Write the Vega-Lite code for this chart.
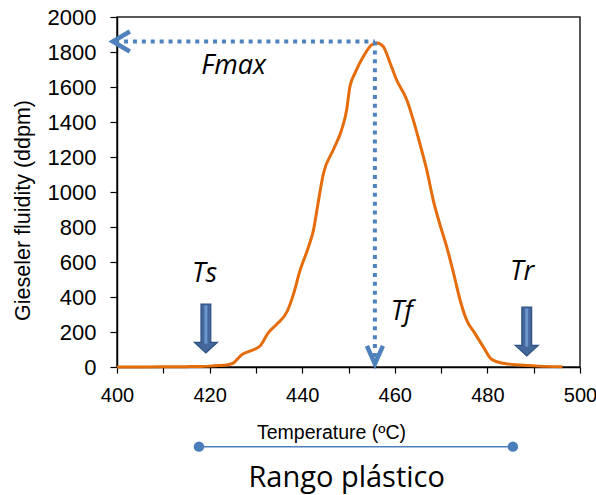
{
  "$schema": "https://vega.github.io/schema/vega-lite/v6.json",
  "width": 463,
  "height": 350,
  "autosize": {"type": "none"},
  "padding": {"left": 117, "top": 17, "right": 16, "bottom": 128},
  "background": "white",
  "config": {
    "view": {"stroke": "#222", "strokeWidth": 1.5},
    "axis": {"grid": false, "domainColor": "#000", "domainWidth": 1.5, "tickColor": "#000", "tickWidth": 1.2, "labelColor": "#000", "titleColor": "#000", "labelFont": "Liberation Sans", "titleFont": "Liberation Sans", "titleFontWeight": "normal"}
  },
  "datasets": {
    "curve": [
      {"T": 400, "F": 0}, {"T": 405, "F": 0}, {"T": 410, "F": 1}, {"T": 415, "F": 2}, {"T": 418, "F": 3},
      {"T": 420, "F": 5}, {"T": 422, "F": 8}, {"T": 423.7, "F": 12}, {"T": 425.1, "F": 22}, {"T": 426, "F": 45},
      {"T": 426.9, "F": 69}, {"T": 428.7, "F": 91}, {"T": 430.9, "F": 120}, {"T": 432.7, "F": 196}, {"T": 434.5, "F": 244},
      {"T": 436.8, "F": 320}, {"T": 438.1, "F": 415}, {"T": 439.5, "F": 549}, {"T": 441.3, "F": 682}, {"T": 442.5, "F": 790},
      {"T": 443.2, "F": 900}, {"T": 444.6, "F": 1107}, {"T": 446.7, "F": 1240}, {"T": 448.5, "F": 1354}, {"T": 449.6, "F": 1469},
      {"T": 450.3, "F": 1602}, {"T": 451.4, "F": 1679}, {"T": 453.2, "F": 1774}, {"T": 455.0, "F": 1841}, {"T": 456.1, "F": 1852},
      {"T": 457.5, "F": 1831}, {"T": 459.0, "F": 1736}, {"T": 460.4, "F": 1640}, {"T": 462.6, "F": 1526}, {"T": 464.0, "F": 1411},
      {"T": 465.4, "F": 1278}, {"T": 466.9, "F": 1126}, {"T": 468.3, "F": 954}, {"T": 469.8, "F": 810}, {"T": 471.2, "F": 688},
      {"T": 472.7, "F": 535}, {"T": 474.1, "F": 383}, {"T": 475.5, "F": 269}, {"T": 477.3, "F": 192}, {"T": 479.1, "F": 116},
      {"T": 480.9, "F": 44}, {"T": 483.4, "F": 21}, {"T": 487.0, "F": 11}, {"T": 491.0, "F": 5}, {"T": 496.2, "F": 2}
    ],
    "guides": [
      {"T": 399.6, "T2": 455.7, "F": 1860, "F2": 1860},
      {"T": 455.7, "T2": 455.7, "F": 1860, "F2": 30}
    ],
    "leftHead": [{"T": 399.1, "F": 1860}],
    "downHead": [{"T": 455.7, "F": 18}],
    "blockArrows": [{"name": "Ts", "T": 419.2, "F": 220}, {"name": "Tr", "T": 488.5, "F": 203}],
    "labels": [
      {"label": "Fmax", "T": 425.2, "F": 1674},
      {"label": "Ts", "T": 418.9, "F": 484},
      {"label": "Tr", "T": 487.5, "F": 495},
      {"label": "Tf", "T": 461.5, "F": 268}
    ],
    "range": [{"T": 417.7, "T2": 485.5, "F": -455}],
    "rangeEnds": [{"T": 417.7, "F": -455}, {"T": 485.5, "F": -455}],
    "rangeLabel": [{"label": "Rango plástico", "T": 449.6, "F": -684}]
  },
  "encoding": {
    "x": {"field": "T", "type": "quantitative", "scale": {"domain": [400, 500], "nice": false, "zero": false},
      "axis": {"values": [400, 410, 420, 430, 440, 450, 460, 470, 480, 490, 500], "labelExpr": "datum.value % 20 === 0 ? datum.label : ''",
        "title": "Temperature (ºC)", "titleFontSize": 19.5, "titleX": 214, "titleY": 71.5, "titleAlign": "center", "titleBaseline": "alphabetic",
        "tickSize": 6, "labelFontSize": 20, "labelPadding": 12, "labelFlush": false}},
    "y": {"field": "F", "type": "quantitative", "scale": {"domain": [0, 2000], "nice": false},
      "axis": {"values": [0, 200, 400, 600, 800, 1000, 1200, 1400, 1600, 1800, 2000], "format": "d", "title": "Gieseler fluidity (ddpm)",
        "titleFontSize": 21.5, "titleX": -94, "titleY": 193, "titleAngle": -90, "titleAlign": "center", "titleBaseline": "middle",
        "tickSize": 7, "labelFontSize": 22, "labelPadding": 14, "labelFlush": false}}
  },
  "layer": [
    {"data": {"name": "curve"}, "mark": {"type": "line", "color": "#E46C0A", "strokeWidth": 3, "interpolate": "monotone"}},
    {"data": {"name": "guides"}, "mark": {"type": "rule", "color": "#4F81BD", "strokeWidth": 4, "strokeDash": [4, 4.9], "strokeCap": "butt"},
      "encoding": {"x2": {"field": "T2"}, "y2": {"field": "F2"}}},
    {"data": {"name": "leftHead"}, "mark": {"type": "point", "shape": "M1.7,-1 L0,0 L1.7,1", "size": 400, "filled": false, "stroke": "#4F81BD", "strokeWidth": 4.5, "strokeJoin": "miter", "opacity": 1}},
    {"data": {"name": "downHead"}, "mark": {"type": "point", "shape": "M-0.8,-1.8 L0,0 L0.8,-1.8", "size": 400, "filled": false, "stroke": "#4F81BD", "strokeWidth": 4.5, "strokeJoin": "miter", "opacity": 1}},
    {"data": {"name": "blockArrows"}, "mark": {"type": "point", "shape": "M-0.2,-1 L0.2,-1 L0.2,0.57 L0.47,0.57 L0,1 L-0.47,0.57 L-0.2,0.57 Z", "size": 2401, "filled": true, "fill": "#44689C", "stroke": "#2F5082", "strokeWidth": 1.2, "opacity": 1}},
    {"data": {"name": "blockArrows"}, "mark": {"type": "point", "shape": "M-0.06,-0.94 L0.06,-0.94 L0.06,0.62 L-0.06,0.62 Z", "size": 2401, "filled": true, "fill": "#6D97CC", "strokeWidth": 0, "opacity": 1}},
    {"data": {"name": "labels"}, "mark": {"type": "text", "font": "Open Sans", "fontStyle": "italic", "fontSize": 27, "align": "center", "baseline": "alphabetic", "color": "#000"},
      "encoding": {"text": {"field": "label"}}},
    {"data": {"name": "range"}, "mark": {"type": "rule", "color": "#4F81BD", "strokeWidth": 1.5, "clip": false},
      "encoding": {"x2": {"field": "T2"}}},
    {"data": {"name": "rangeEnds"}, "mark": {"type": "point", "shape": "circle", "size": 110, "filled": true, "color": "#4A7EBB", "opacity": 1, "clip": false}},
    {"data": {"name": "rangeLabel"}, "mark": {"type": "text", "font": "Open Sans", "fontSize": 29, "align": "center", "baseline": "alphabetic", "color": "#000", "clip": false},
      "encoding": {"text": {"field": "label"}}}
  ]
}
